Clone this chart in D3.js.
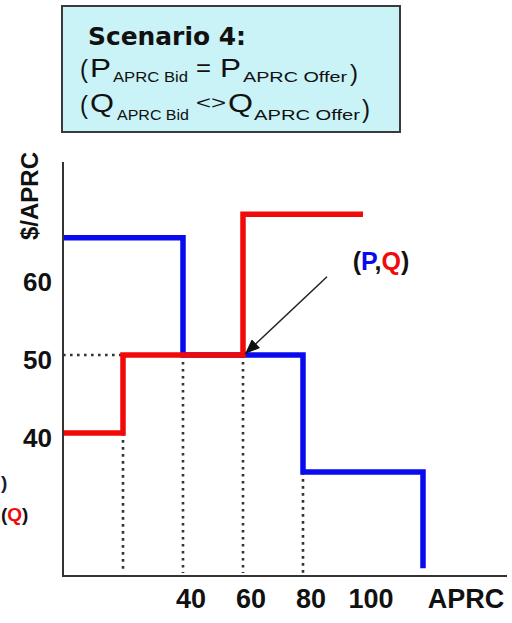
<!DOCTYPE html>
<html>
<head>
<meta charset="utf-8">
<script src="https://cdn.jsdelivr.net/npm/d3@7/dist/d3.min.js"></script>
<style>
  html, body { margin: 0; padding: 0; background: #fff; }
  svg { display: block; }
</style>
</head>
<body>
<svg id="chart" width="512" height="623"></svg>
<script>
// ---- data ----
const bidSteps   = [ {q: 0, p: 65}, {q: 40, p: 50}, {q: 80, p: 35}, {q: 120, p: 22.7} ]; // blue (P)
const offerSteps = [ {q: 0, p: 40}, {q: 20, p: 50}, {q: 60, p: 68}, {q: 100, p: 68} ];  // red (Q)
const dropLines  = [ {q: 20, p: 40}, {q: 40, p: 50}, {q: 60, p: 50}, {q: 80, p: 35} ];
const clearingPrice = 50;
const clearingQtyStart = 20;
const yTicks = [40, 50, 60];
const xTicks = [40, 60, 80, 100];
const arrowFrom = {q: 88, p: 60};
const arrowTo   = {q: 60, p: 50};
const pqLabel   = {q: 106, p: 60.9};

const svg = d3.select("#chart");

const x = d3.scaleLinear().domain([0, 148]).range([63, 507]);
const y = d3.scaleLinear().domain([21.7, 74.7]).range([576, 162]);

const BLUE = "#0a0af0", RED = "#f20a0a";
const FONT = "'Liberation Sans', Arial, sans-serif";

// ---- scenario box ----
const box = svg.append("g");
box.append("rect").attr("x", 62).attr("y", 6).attr("width", 338).attr("height", 126)
  .attr("fill", "#c9f3f7").attr("stroke", "#3a3a3a").attr("stroke-width", 2);

box.append("text").attr("x", 88).attr("y", 45)
  .attr("font-family", "'DejaVu Sans', Verdana, sans-serif").attr("font-weight", "bold")
  .attr("font-size", 25).attr("fill", "#111")
  .attr("textLength", 158).attr("lengthAdjust", "spacingAndGlyphs")
  .text("Scenario 4:");

function seg(str, xx, yy, size, len) {
  const t = box.append("text").attr("x", xx).attr("y", yy)
    .attr("font-family", FONT).attr("font-size", size).attr("fill", "#111").text(str);
  if (len) t.attr("textLength", len).attr("lengthAdjust", "spacingAndGlyphs");
  return t;
}
// line 2
seg("(", 80, 78, 26, 8);
seg("P", 90, 77, 25, 21);
seg("APRC Bid", 113, 82, 14, 75);
seg("=", 196, 76, 24, 15);
seg("P", 220, 77, 25, 21);
seg("APRC Offer", 243, 82, 14, 104);
seg(")", 350, 81, 24, 8);
// line 3
seg("(", 80, 114, 26, 8);
seg("Q", 90, 112, 25, 24);
seg("APRC Bid", 117, 120, 14, 72);
seg("<>", 196, 109, 18, 30);
seg("Q", 228, 112, 25, 25);
seg("APRC Offer", 254, 120, 14, 106);
seg(")", 362, 118, 25, 8);

// ---- dotted guide lines ----
const guides = svg.append("g").attr("stroke", "#333").attr("stroke-width", 2.6)
  .attr("stroke-dasharray", "2.6,4.4").attr("fill", "none");
guides.append("line")
  .attr("x1", x(0)).attr("x2", x(clearingQtyStart))
  .attr("y1", y(clearingPrice)).attr("y2", y(clearingPrice));
guides.selectAll("line.drop").data(dropLines).enter().append("line").attr("class", "drop")
  .attr("x1", d => x(d.q)).attr("x2", d => x(d.q))
  .attr("y1", d => y(d.p)).attr("y2", y(21.7) - 3);

// ---- step curves ----
const stepLine = d3.line().x(d => x(d.q)).y(d => y(d.p)).curve(d3.curveStepAfter);
svg.append("path").datum(bidSteps).attr("d", stepLine)
  .attr("fill", "none").attr("stroke", BLUE).attr("stroke-width", 5.5);
svg.append("path").datum(offerSteps).attr("d", stepLine)
  .attr("fill", "none").attr("stroke", RED).attr("stroke-width", 5.5);

// ---- axes ----
const axisG = svg.append("g").attr("stroke", "#333").attr("stroke-width", 2);
axisG.append("line").attr("x1", x(0)).attr("x2", x(0)).attr("y1", y(74.7)).attr("y2", y(21.7));
axisG.append("line").attr("x1", x(0) - 1).attr("x2", x(148)).attr("y1", y(21.7)).attr("y2", y(21.7));

svg.selectAll("text.ytick").data(yTicks).enter().append("text").attr("class", "ytick")
  .attr("x", 52).attr("y", d => y(d) + 14)
  .attr("text-anchor", "end").attr("font-family", FONT).attr("font-weight", "bold")
  .attr("font-size", 26).attr("fill", "#111").text(d => d);

svg.selectAll("text.xtick").data(xTicks).enter().append("text").attr("class", "xtick")
  .attr("x", d => x(d) + 8).attr("y", 608)
  .attr("text-anchor", "middle").attr("font-family", FONT).attr("font-weight", "bold")
  .attr("font-size", 27).attr("fill", "#111").text(d => d);

svg.append("text").attr("x", 466).attr("y", 608).attr("text-anchor", "middle")
  .attr("font-family", FONT).attr("font-weight", "bold").attr("font-size", 27)
  .attr("fill", "#111").text("APRC");

svg.append("text").attr("transform", "translate(38,196) rotate(-90)")
  .attr("text-anchor", "middle").attr("font-family", FONT).attr("font-weight", "bold")
  .attr("font-size", 24).attr("fill", "#111").text("$/APRC");

// ---- annotation ----
const defs = svg.append("defs");
defs.append("marker").attr("id", "arr").attr("viewBox", "0 0 10 8")
  .attr("refX", 10).attr("refY", 4).attr("markerWidth", 15).attr("markerHeight", 12)
  .attr("markerUnits", "userSpaceOnUse").attr("orient", "auto")
  .append("path").attr("d", "M0,0 L10,4 L0,8 Z").attr("fill", "#111");

svg.append("line")
  .attr("x1", x(arrowFrom.q)).attr("y1", y(arrowFrom.p))
  .attr("x2", x(arrowTo.q) + 2).attr("y2", y(arrowTo.p) - 1)
  .attr("stroke", "#222").attr("stroke-width", 1.5).attr("marker-end", "url(#arr)");

const pq = svg.append("text").attr("x", x(pqLabel.q)).attr("y", y(pqLabel.p))
  .attr("text-anchor", "middle").attr("font-family", FONT).attr("font-weight", "bold")
  .attr("font-size", 25).attr("fill", "#111");
pq.append("tspan").text("(");
pq.append("tspan").attr("fill", BLUE).text("P");
pq.append("tspan").text(",");
pq.append("tspan").attr("fill", RED).text("Q");
pq.append("tspan").text(")");

// ---- cropped legend fragments at left edge ----
svg.append("text").attr("x", 1).attr("y", 489)
  .attr("font-family", FONT).attr("font-weight", "bold").attr("font-size", 19)
  .attr("fill", "#1a1a3a").text(")");

const lq = svg.append("text").attr("x", 1).attr("y", 521)
  .attr("font-family", FONT).attr("font-weight", "bold").attr("font-size", 19).attr("fill", "#111");
lq.append("tspan").text("(");
lq.append("tspan").attr("fill", RED).text("Q");
lq.append("tspan").text(")");
</script>
</body>
</html>
